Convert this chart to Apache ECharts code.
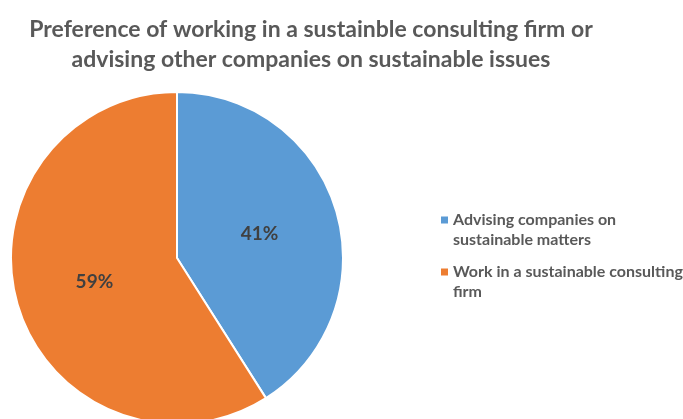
<!DOCTYPE html>
<html>
<head>
<meta charset="utf-8">
<script src="https://cdn.jsdelivr.net/npm/echarts@6/dist/echarts.min.js"></script>
<style>
  html, body { margin: 0; padding: 0; background: #fff; }
  #chart { width: 683px; height: 419px; }
</style>
</head>
<body>
<div id="chart"></div>
<script>
// Survey shares (percent)
const categories = ['Advising companies on sustainable matters', 'Work in a sustainable consulting firm'];
const values = [41, 59];
const colors = ['#5B9BD5', '#ED7D31'];

// Legend text wraps at fixed points
const legendLines = {
  'Advising companies on sustainable matters': 'Advising companies on\nsustainable matters',
  'Work in a sustainable consulting firm': 'Work in a sustainable consulting\nfirm'
};

// Square marker sitting beside the first text line of a two-line legend entry
const legendIcon = 'path://M0,6.5h7v7h-7z M0,0L0,0 M0,40L0,40';

const chart = echarts.init(document.getElementById('chart'));
chart.setOption({
  animation: false,
  color: colors,
  title: {
    text: 'Preference of working in a sustainble consulting firm or\nadvising other companies on sustainable issues',
    left: 306,
    textAlign: 'center',
    top: 10,
    textStyle: {
      fontFamily: 'Lato',
      fontWeight: 'bold',
      fontSize: 23,
      lineHeight: 30,
      color: '#595959'
    }
  },
  legend: {
    orient: 'vertical',
    left: 441,
    top: 210,
    padding: 0,
    itemWidth: 7,
    itemHeight: 40,
    itemGap: 12,
    icon: legendIcon,
    itemStyle: { borderWidth: 0 },
    formatter: name => legendLines[name],
    textStyle: {
      fontFamily: 'Lato',
      fontWeight: 'bold',
      fontSize: 16,
      lineHeight: 20,
      color: '#595959'
    }
  },
  series: [{
    type: 'pie',
    center: [177, 258],
    radius: [0, 166],
    startAngle: 90,
    clockwise: true,
    itemStyle: { borderColor: '#fff', borderWidth: 2 },
    label: {
      position: 'inside',
      formatter: p => p.value + '%',
      fontFamily: 'Lato',
      fontWeight: 'bold',
      fontSize: 19,
      color: '#404040'
    },
    labelLine: { show: false },
    data: categories.map((c, i) => ({ name: c, value: values[i] }))
  }]
});
</script>
</body>
</html>
